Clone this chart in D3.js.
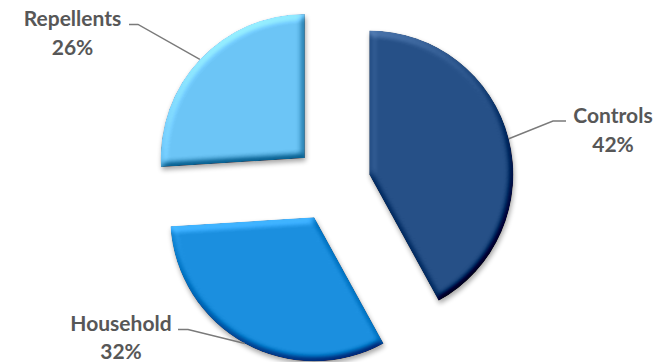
<!DOCTYPE html>
<html>
<head>
<meta charset="utf-8">
<script src="https://cdn.jsdelivr.net/npm/d3@7/dist/d3.min.js"></script>
<style>
  html, body { margin: 0; padding: 0; background: #ffffff; }
  svg { display: block; }
</style>
</head>
<body>
<svg id="chart" width="670" height="362"></svg>
<script>
// ---- data ----
const categories = ["Controls", "Household", "Repellents"];
const values = [42, 32, 26];
const colors = ["#265087", "#1b8fdf", "#6cc5f6"];

// ---- layout ----
const W = 670, H = 362;
const cx = 332.5, cy = 184, R = 144, explode = 38;
// label placement: elbow point of leader, end of horizontal stub, text centre, first baseline
const labelLayout = {
  "Controls":   { elbow: [553, 121],   end: [566, 121],   tx: 613,   ty: 123 },
  "Household":  { elbow: [188, 329.5], end: [178, 329.5], tx: 121,   ty: 330.5 },
  "Repellents": { elbow: [138, 24.5],  end: [129, 24.5],  tx: 72.5,  ty: 26 }
};
const lineGap = 28.5;

const svg = d3.select("#chart");
const defs = svg.append("defs");

// bevel + shadow filter
const f = defs.append("filter")
  .attr("id", "bevel")
  .attr("x", "-10%").attr("y", "-10%").attr("width", "125%").attr("height", "125%")
  .attr("color-interpolation-filters", "sRGB");
f.append("feGaussianBlur").attr("in", "SourceAlpha").attr("stdDeviation", 3.5).attr("result", "blur");
const dl = f.append("feDiffuseLighting")
  .attr("in", "blur").attr("surfaceScale", 5).attr("diffuseConstant", 1)
  .attr("lighting-color", "#ffffff").attr("result", "light");
dl.append("feDistantLight").attr("azimuth", 245).attr("elevation", 45);
f.append("feComposite").attr("in", "SourceGraphic").attr("in2", "light")
  .attr("operator", "arithmetic")
  .attr("k1", 0).attr("k2", 1).attr("k3", 0.55).attr("k4", -0.55 * 0.7071)
  .attr("result", "lit");
f.append("feComposite").attr("in", "lit").attr("in2", "SourceAlpha").attr("operator", "in").attr("result", "litClip");
// drop shadow
f.append("feGaussianBlur").attr("in", "SourceAlpha").attr("stdDeviation", 2.5).attr("result", "sblur");
f.append("feOffset").attr("in", "sblur").attr("dx", 1).attr("dy", 3).attr("result", "soff");
f.append("feComponentTransfer").attr("in", "soff").attr("result", "shadow")
  .append("feFuncA").attr("type", "linear").attr("slope", 0.35);
const merge = f.append("feMerge");
merge.append("feMergeNode").attr("in", "shadow");
merge.append("feMergeNode").attr("in", "litClip");

const pie = d3.pie().sort(null).value(d => d)(values);
const arc = d3.arc().innerRadius(0).outerRadius(R);

const data = pie.map((p, i) => {
  const mid = (p.startAngle + p.endAngle) / 2;
  return {
    p, i, mid,
    name: categories[i],
    value: values[i],
    color: colors[i],
    ox: cx + Math.sin(mid) * explode,
    oy: cy - Math.cos(mid) * explode
  };
});

// slices
svg.append("g").selectAll("path")
  .data(data)
  .join("path")
  .attr("transform", d => `translate(${d.ox},${d.oy})`)
  .attr("d", d => arc(d.p))
  .attr("fill", d => d.color)
  .attr("filter", "url(#bevel)");

// leader lines
svg.append("g").selectAll("polyline")
  .data(data)
  .join("polyline")
  .attr("points", d => {
    const L = labelLayout[d.name];
    const ax = d.ox + Math.sin(d.mid) * R;
    const ay = d.oy - Math.cos(d.mid) * R;
    return [[ax, ay], L.elbow, L.end].map(q => q.join(",")).join(" ");
  })
  .attr("fill", "none")
  .attr("stroke", "#7a7a7a")
  .attr("stroke-width", 1.4);

// labels
const lbl = svg.append("g")
  .attr("font-family", "Lato, 'Open Sans', sans-serif")
  .attr("font-weight", 700)
  .attr("font-size", "21px")
  .attr("fill", "#575757")
  .attr("text-anchor", "middle");

lbl.selectAll("text.name")
  .data(data)
  .join("text")
  .attr("class", "name")
  .attr("x", d => labelLayout[d.name].tx)
  .attr("y", d => labelLayout[d.name].ty)
  .text(d => d.name);

lbl.selectAll("text.pct")
  .data(data)
  .join("text")
  .attr("class", "pct")
  .attr("x", d => labelLayout[d.name].tx)
  .attr("y", d => labelLayout[d.name].ty + lineGap)
  .text(d => d.value + "%");
</script>
</body>
</html>
